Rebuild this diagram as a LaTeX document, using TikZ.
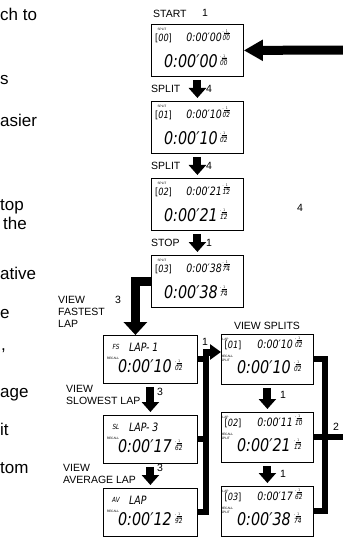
\documentclass[tikz,border=0pt]{standalone}
\usepackage{fontspec}
\setmainfont{Liberation Sans}
\newfontfamily\lcdf{DejaVu Sans}[FakeStretch=0.82]
\usetikzlibrary{arrows.meta}
\newcommand\frc{{\setlength\arrayrulewidth{0.25pt}\renewcommand\arraystretch{0.55}\begin{tabular}{@{}c@{}}1\\\hline 100\end{tabular}}}
\newcommand\hstack[1]{\begin{tabular}{@{}l@{}}{\lcdf\fontsize{3.5}{3.5}\selectfont ″\kern0.3pt\frc}\\[-1pt]{\lcdf\itshape\fontsize{7}{7}\selectfont #1}\end{tabular}}
\tikzset{
  disp/.style={draw, line width=0.8pt, inner sep=0pt, anchor=north west},
  lbl/.style={font=\fontsize{10.5}{12}\selectfont, inner sep=0pt, align=left},
  frag/.style={font=\fontsize{17}{17}\selectfont, inner sep=0pt, anchor=base west},
  tinyt/.style={font=\fontsize{3.2}{3.2}\selectfont, inner sep=0pt},
  idx/.style={font=\lcdf\fontsize{10}{10}\selectfont, inner sep=0pt},
  lcdpre/.style={font=\lcdf\itshape\fontsize{7}{7}\selectfont, inner sep=0pt},
  lcdmid/.style={font=\lcdf\itshape\fontsize{11.5}{11.5}\selectfont, inner sep=0pt},
  lcdbig/.style={font=\lcdf\itshape\fontsize{17.5}{17.5}\selectfont, inner sep=0pt},
  hund/.style={font=\fontsize{4}{4}\selectfont, inner sep=0pt, anchor=west},
  fat/.style={line width=8pt, -{Triangle[length=10pt,width=17pt]}, shorten <=3pt, shorten >=3pt},
  bigleft/.style={line width=9pt, -{Triangle[length=19pt,width=20pt]}},
  larr/.style={line width=9pt, -{Triangle[length=13pt,width=23pt]}},
  rarr/.style={line width=7pt, -{Triangle[length=11pt,width=15pt]}},
  bus/.style={line width=6pt},
}
\newcommand\maindisp[5]{%
  \node[disp, minimum width=92pt, minimum height=52pt] (#1) at (151,#2) {};
  \node[tinyt] (#1-sp) at ([shift={(11,5.5)}]#1.north west) {SPLIT};
  \node[idx] (#1-ix) at ([shift={(12.5,14)}]#1.north west) {[\textit{#3}]};
  \node[lcdmid, anchor=east] (#1-t) at ([shift={(71,13)}]#1.north west) {#4};
  \node[hund] (#1-th) at ([shift={(71.5,12)}]#1.north west) {\hstack{#5}};
  \node[lcdbig, anchor=east] (#1-b) at ([shift={(67,37)}]#1.north west) {#4};
  \node[hund] (#1-bh) at ([shift={(69,37)}]#1.north west) {\hstack{#5}};
}
\newcommand\leftdisp[6]{%
  \node[disp, minimum width=94pt, minimum height=48pt] (#1) at (103,#2) {};
  \node[lcdpre] (#1-p) at ([shift={(13,12)}]#1.north west) {#3};
  \node[lcdmid, anchor=west] (#1-l) at ([shift={(26,12)}]#1.north west) {#4};
  \node[tinyt] (#1-r) at ([shift={(10,23)}]#1.north west) {RECALL};
  \node[lcdbig, anchor=east] (#1-b) at ([shift={(69,31)}]#1.north west) {#5};
  \node[hund] (#1-h) at ([shift={(72,31)}]#1.north west) {\hstack{#6}};
}
\newcommand\splitdisp[7]{%
  \node[disp, minimum width=92pt, minimum height=50pt] (#1) at (221,#2) {};
  \node[tinyt] (#1-la) at ([shift={(4.5,5)}]#1.north west) {LAP};
  \node[idx] (#1-ix) at ([shift={(12,11)}]#1.north west) {[\textit{#3}]};
  \node[lcdmid, anchor=east] (#1-t) at ([shift={(72,10)}]#1.north west) {#4};
  \node[hund] (#1-th) at ([shift={(74,9)}]#1.north west) {\hstack{#5}};
  \node[tinyt] (#1-r) at ([shift={(6,22)}]#1.north west) {RECALL};
  \node[tinyt] (#1-s) at ([shift={(4.5,26.5)}]#1.north west) {SPLIT};
  \node[lcdbig, anchor=east] (#1-b) at ([shift={(70,33)}]#1.north west) {#6};
  \node[hund] (#1-bh) at ([shift={(73,33)}]#1.north west) {\hstack{#7}};
}
\begin{document}
\begin{tikzpicture}[x=1pt,y=-1pt]
\fill[white] (0,0) rectangle (342,537);
\useasboundingbox (0,0) rectangle (342,537);
% cut-off text at left
\node[frag] (f1) at (0,21) {ch to};
\node[frag] (f2) at (0,85) {s};
\node[frag] (f3) at (0,127) {asier};
\node[frag] (f4) at (0,211) {top};
\node[frag] (f5) at (3,229) {the};
\node[frag] (f6) at (0,279) {ative};
\node[frag] (f7) at (0,318) {e};
\node[frag] (f8) at (1,350) {,};
\node[frag] (f9) at (0,397) {age};
\node[frag] (f10) at (0,435) {it};
\node[frag] (f11) at (0,473) {tom};
% main column
\maindisp{b0}{24}{00}{0:00′00}{00}
\maindisp{b1}{101}{01}{0:00′10}{02}
\maindisp{b2}{178}{02}{0:00′21}{12}
\maindisp{b3}{255}{03}{0:00′38}{74}
\node[lbl, anchor=west] (lstart) at (153,14) {START};
\node[lbl] (nstart) at (205,13) {1};
\node[lbl, anchor=west] (ls1) at (151,88.5) {SPLIT};
\node[lbl] (ns1) at (209,88.5) {4};
\node[lbl, anchor=west] (ls2) at (151,165.5) {SPLIT};
\node[lbl] (ns2) at (209,165.5) {4};
\node[lbl, anchor=west] (lstop) at (151,242.5) {STOP};
\node[lbl] (nstop) at (209,242.5) {1};
\node[lbl] (nright) at (300,208) {4};
\draw[fat] (b0.south) -- (b1.north);
\draw[fat] (b1.south) -- (b2.north);
\draw[fat] (b2.south) -- (b3.north);
\coordinate (rin) at (350,50);
\draw[bigleft] (rin) -- (b0.east);
% left column
\leftdisp{fs}{335}{FS}{LAP- 1}{0:00′10}{02}
\leftdisp{sl}{415}{SL}{LAP- 3}{0:00′17}{62}
\leftdisp{av}{488}{AV}{LAP}{0:00′12}{92}
\node[lbl, anchor=west] (lfast) at (58,311.5) {VIEW\\FASTEST\\LAP};
\node[lbl] (nfast) at (118,300) {3};
\node[lbl, anchor=west] (lslow) at (66,394.5) {VIEW\\SLOWEST LAP};
\node[lbl] (nslow) at (160,392) {3};
\node[lbl, anchor=west] (lavg) at (63,474) {VIEW\\AVERAGE LAP};
\node[lbl] (navg) at (160,468) {3};
\draw[larr] (b3.west) -| ([xshift=-15pt]fs.north);
\draw[fat] (fs.south) -- (sl.north);
\draw[fat] (sl.south) -- (av.north);
% right column
\splitdisp{s1}{334}{01}{0:00′10}{02}{0:00′10}{02}
\splitdisp{s2}{412}{02}{0:00′11}{10}{0:00′21}{12}
\splitdisp{s3}{486}{03}{0:00′17}{62}{0:00′38}{74}
\node[lbl] (lsplits) at (267,326) {VIEW SPLITS};
\draw[fat] (s1.south) -- (s2.north);
\draw[fat] (s2.south) -- (s3.north);
\node[lbl] (ns12) at (283,395) {1};
\node[lbl] (ns23) at (283,474) {1};
% left bus
\coordinate (lbt) at (206,352);
\draw[bus, line cap=rect] (lbt) -- (lbt |- av.east);
\draw[bus] (fs.east) -- (fs.east -| lbt);
\draw[bus] (sl.east) -- (sl.east -| lbt);
\draw[bus] (av.east) -- (av.east -| lbt);
\draw[rarr] ([xshift=-3pt]lbt) -- (s1.west |- lbt);
\node[lbl] (nbus) at (205,342) {1};
% right bus
\coordinate (rbx) at (325,0);
\coordinate (rout) at (350,0);
\draw[bus, line cap=rect] (s1.east -| rbx) -- (s3.east -| rbx);
\draw[bus] (s1.east) -- (s1.east -| rbx);
\draw[bus] (s3.east) -- (s3.east -| rbx);
\draw[bus] (s2.east) -- (s2.east -| rout);
\node[lbl] (n2) at (336,427) {2};
\end{tikzpicture}
\end{document}
